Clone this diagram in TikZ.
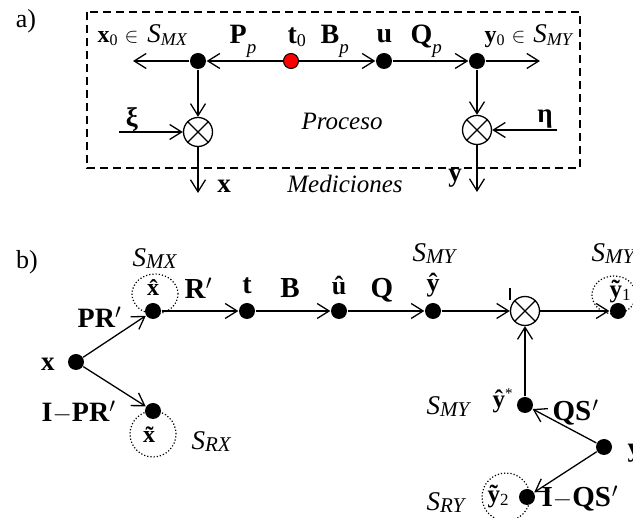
\documentclass[tikz,border=0pt]{standalone}
\usepackage{fontspec}
\setmainfont{Liberation Serif}
\usetikzlibrary{arrows.meta,shapes.geometric}
\newcommand\fs[1]{\fontsize{#1}{#1}\selectfont}
\newcommand\lo[2]{\raisebox{-#1}{#2}}

\begin{document}
\begin{tikzpicture}[x=1pt,y=-1pt,
  line width=1.3pt,
  arr/.style={-{Straight Barb[length=12pt,width=15pt]}},
  dot/.style={circle,fill=black,inner sep=0pt,minimum size=16pt},
  reddot/.style={circle,fill=red,draw=black,line width=1pt,inner sep=0pt,minimum size=15pt},
  otimes/.style={circle,draw,inner sep=0pt,minimum size=29pt},
  ring/.style={draw,dotted,line width=1.2pt,inner sep=0pt},
  lbl/.style={inner sep=0pt},
]
\useasboundingbox (0,0) rectangle (633,518);

% ---------- a) process ----------
\node[lbl] (la) at (26,21) {\fs{26}a)};
\draw[dashed,dash pattern=on 8pt off 5pt] (87,12) rectangle (580,168);

\node[dot] (pa) at (198,61) {};
\node[reddot] (t0) at (291,61) {};
\node[dot] (ua) at (384,61) {};
\node[dot] (ya) at (477,61) {};
\node[otimes] (oxa) at (198,132) {};
\node[otimes] (oya) at (477,130) {};
\foreach \o in {oxa,oya}{
  \draw[line width=1.2pt] (\o.north west) -- (\o.south east) (\o.north east) -- (\o.south west);
}
\coordinate (xl) at (133,61);
\coordinate (yr) at (540,61);
\coordinate (xis) at (119,132);
\coordinate (etas) at (557,130);
\coordinate (xo) at (198,193);
\coordinate (yo) at (477,192);

\draw[arr] (pa) -- (xl);
\draw[arr] (t0) -- (pa);
\draw[arr] (t0) -- (ua);
\draw[arr] (ua) -- (ya);
\draw[arr] (ya) -- (yr);
\draw[arr] (pa) -- (oxa);
\draw[arr] (ya) -- (oya);
\draw[arr] (xis) -- (oxa);
\draw[arr] (etas) -- (oya);
\draw[arr] (oxa) -- (xo);
\draw[arr] (oya) -- (yo);

\node[lbl,anchor=base west] (lx0) at (97,43)
  {\fs{24}\textbf{x}\lo{3pt}{\fs{16}0}\hspace{7pt}{\fs{20}$\in$}\hspace{9pt}{\fs{27}\textit{S}}\lo{3pt}{\fs{18}\textit{MX}}};
\node[lbl,anchor=base west] (lPp) at (229,44) {\fs{28}\textbf{P}\lo{10pt}{\fs{19}\textit{p}}};
\node[lbl,anchor=base west] (lt0) at (287,44) {\fs{28}\textbf{t}\lo{3pt}{\fs{18}0}};
\node[lbl,anchor=base west] (lBp) at (320,44) {\fs{28}\textbf{B}\lo{10pt}{\fs{19}\textit{p}}};
\node[lbl,anchor=base west] (lu) at (376,43) {\fs{28}\textbf{u}};
\node[lbl,anchor=base west] (lQp) at (410,44) {\fs{28}\textbf{Q}\lo{10pt}{\fs{19}\textit{p}}};
\node[lbl,anchor=base west] (ly0) at (484,43)
  {\fs{24}\textbf{y}\lo{3pt}{\fs{16}0}\hspace{7pt}{\fs{20}$\in$}\hspace{8pt}{\fs{27}\textit{S}}\lo{3pt}{\fs{18}\textit{MY}}};
\node[lbl] (lxi) at (132,120) {\fs{27}\textbf{ξ}};
\node[lbl] (leta) at (545,119) {\fs{27}\textbf{η}};
\node[lbl,anchor=base] (lproc) at (342,130) {\fs{25}\textit{Proceso}};
\node[lbl,anchor=base] (lmed) at (345,193) {\fs{25}\textit{Mediciones}};
\node[lbl,anchor=base] (lxa) at (224,193) {\fs{27}\textbf{x}};
\node[lbl,anchor=base] (lya) at (455,182) {\fs{27}\textbf{y}};

% ---------- b) estimation ----------
\node[lbl] (lb) at (27,262) {\fs{26}b)};

\node[ring,ellipse,minimum width=46pt,minimum height=40pt] (rxh) at (155,294) {};
\node[ring,circle,minimum size=46pt] (rxt) at (153,434) {};
\node[ring,ellipse,minimum width=44pt,minimum height=38pt] (ry1) at (614,295) {};
\node[ring,circle,minimum size=48pt] (ry2) at (506,497) {};

\node[dot] (xh) at (153,311) {};
\node[dot] (tb) at (247,311) {};
\node[dot] (uh) at (339,311) {};
\node[dot] (yh) at (433,311) {};
\node[otimes] (ob) at (525,311) {};
\draw[line width=1.2pt] (ob.north west) -- (ob.south east) (ob.north east) -- (ob.south west);
\node[dot] (yt1) at (618,311) {};
\node[dot] (xb) at (76,362) {};
\node[dot] (xt) at (153,411) {};
\node[dot] (ys) at (525,405) {};
\node[dot] (yb) at (604,447) {};
\node[dot] (yt2) at (527,497) {};

\draw[arr] (xb) -- (xh);
\draw[arr] (xb) -- (xt);
\draw[arr] (xh) -- (tb);
\draw[arr] (tb) -- (uh);
\draw[arr] (uh) -- (yh);
\draw[arr] (yh) -- (ob);
\draw[arr] (ob) -- (yt1);
\draw[arr] (ys) -- (ob);
\draw[arr] (yb) -- (ys);
\draw[arr] (yb) -- (yt2);
\draw (510,288) -- (510,300);

\node[lbl,anchor=base west] (sMX) at (132,267) {\fs{27}\textit{S}\lo{2pt}{\fs{21}\textit{MX}}};
\node[lbl,anchor=base west] (sMY1) at (412,262) {\fs{27}\textit{S}\lo{2pt}{\fs{21}\textit{MY}}};
\node[lbl,anchor=base west] (sMY2) at (591,262) {\fs{27}\textit{S}\lo{2pt}{\fs{21}\textit{MY}}};
\node[lbl,anchor=base west] (sMY3) at (426,415) {\fs{27}\textit{S}\lo{2pt}{\fs{21}\textit{MY}}};
\node[lbl,anchor=base west] (sRX) at (191,450) {\fs{27}\textit{S}\lo{2pt}{\fs{21}\textit{RX}}};
\node[lbl,anchor=base west] (sRY) at (426,511) {\fs{27}\textit{S}\lo{2pt}{\fs{21}\textit{RY}}};

\node[lbl,anchor=base] (lxh) at (155,296) {\fs{24}\textbf{\^{x}}};
\node[lbl,anchor=base west] (lR) at (184,299) {\fs{29}\textbf{R}$'$};
\node[lbl,anchor=base] (lt) at (247,294) {\fs{28}\textbf{t}};
\node[lbl,anchor=base] (lB) at (290,298) {\fs{29}\textbf{B}};
\node[lbl,anchor=base] (luh) at (339,295) {\fs{26}\textbf{\^{u}}};
\node[lbl,anchor=base] (lQ) at (382,298) {\fs{29}\textbf{Q}};
\node[lbl,anchor=base] (lyh) at (433,292) {\fs{26}\textbf{\^{y}}};
\node[lbl,anchor=base west] (lyt1) at (609,298) {\fs{25}\textbf{\~{y}}\lo{3pt}{\fs{17}1}};
\node[lbl,anchor=base west] (lPR) at (77,328) {\fs{28}\textbf{PR}$'$};
\node[lbl,anchor=base] (lxb) at (48,371) {\fs{27}\textbf{x}};
\node[lbl,anchor=base west] (lIPR) at (41,422) {\fs{28}\textbf{I}$-$\textbf{PR}$'$};
\node[lbl,anchor=base] (lxt) at (153,443) {\fs{24}\textbf{\~{x}}};
\node[lbl,anchor=base west] (lys) at (492,408) {\fs{25}\textbf{\^{y}}\raisebox{9pt}{\fs{15}*}};
\node[lbl,anchor=base west] (lQS) at (552,421) {\fs{29}\textbf{QS}\hspace{1pt}$'$};
\node[lbl,anchor=base west] (lyb) at (627,457) {\fs{27}\textbf{y}};
\node[lbl,anchor=base west] (lyt2) at (487,503) {\fs{25}\textbf{\~{y}}\lo{3pt}{\fs{17}2}};
\node[lbl,anchor=base west] (lIQS) at (541,507) {\fs{29}\textbf{I}$-$\textbf{QS}\hspace{1pt}$'$};
\end{tikzpicture}
\end{document}
